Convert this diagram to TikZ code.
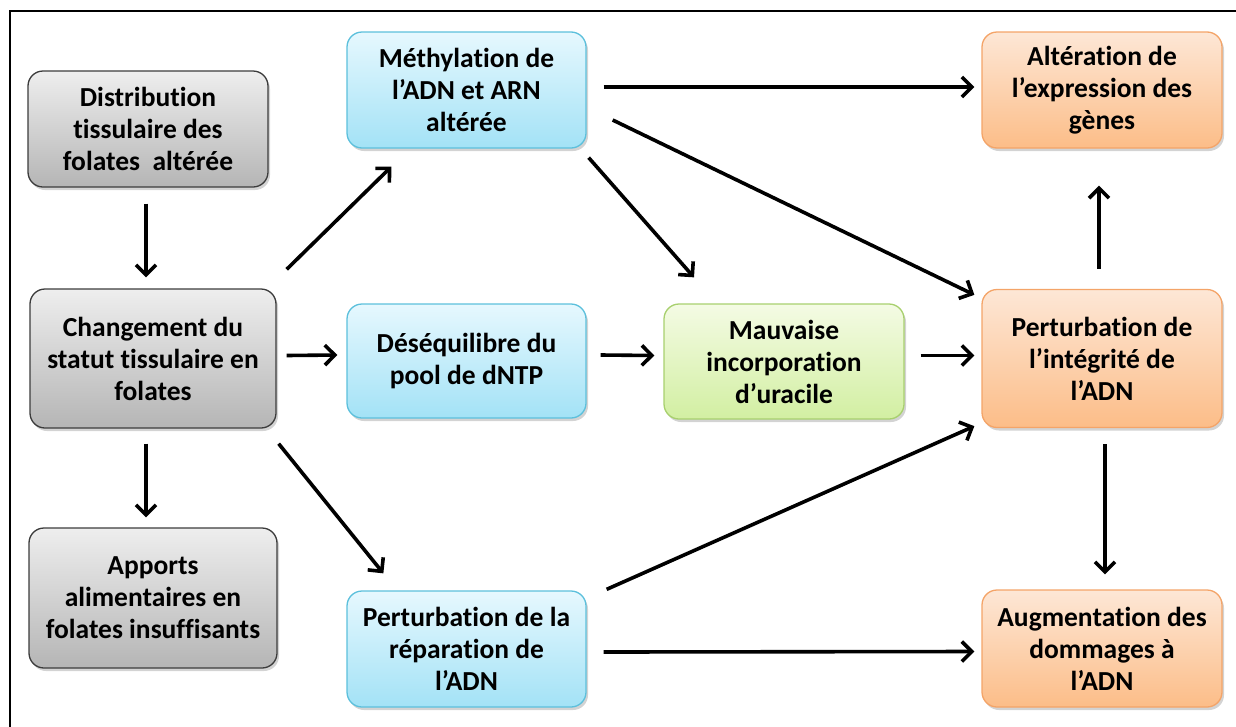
\documentclass[tikz,border=0pt]{standalone}
\usepackage{fontspec}
\setmainfont{Carlito}[RawFeature={-liga;-clig;-calt;-dlig;-rlig}]
\usetikzlibrary{arrows.meta,shadows,calc}
\definecolor{greyline}{HTML}{3C3C3C}
\definecolor{greytop}{HTML}{EEEEEE}
\definecolor{greybot}{HTML}{B5B5B5}
\definecolor{blueline}{HTML}{5CC0DC}
\definecolor{bluetop}{HTML}{E6F8FE}
\definecolor{bluebot}{HTML}{A3E2F6}
\definecolor{greenline}{HTML}{A8D06E}
\definecolor{greentop}{HTML}{F4FBE4}
\definecolor{greenbot}{HTML}{D2EFA2}
\definecolor{orline}{HTML}{F4A468}
\definecolor{ortop}{HTML}{FDE7D6}
\definecolor{orbot}{HTML}{FCBD88}
\begin{document}
\begin{tikzpicture}[x=1pt,y=-1pt,
  box/.style={rounded corners=15pt, inner sep=0pt, align=center,
    font=\fontsize{27.5}{32}\selectfont\bfseries, line width=1.3pt,
    drop shadow={opacity=0.35, shadow xshift=2pt, shadow yshift=-3pt}},
  greybox/.style={box, draw=greyline, top color=greytop, bottom color=greybot},
  bluebox/.style={box, draw=blueline, top color=bluetop, bottom color=bluebot},
  greenbox/.style={box, draw=greenline, top color=greentop, bottom color=greenbot},
  orbox/.style={box, draw=orline, top color=ortop, bottom color=orbot},
  arr/.style={line width=3.6pt, -{Straight Barb[length=10pt,width=20pt]}}]
\useasboundingbox (0,0) rectangle (1236,726);
\draw[line width=2pt] (10,728) -- (10,11) -- (1238,11);

\node[greybox, minimum width=240pt, minimum height=116pt] (dist) at (148,129) {Distribution\\tissulaire des\\folates\ \ altérée};
\node[greybox, minimum width=246pt, minimum height=139pt] (chg) at (153,358.5) {Changement du\\statut tissulaire en\\folates};
\node[greybox, minimum width=248pt, minimum height=140pt] (app) at (153,598) {Apports\\alimentaires en\\folates insuffisants};

\node[bluebox, minimum width=239pt, minimum height=116pt] (meth) at (466.5,90) {Méthylation de\\l’ADN et ARN\\altérée};
\node[bluebox, minimum width=239pt, minimum height=114pt] (deseq) at (466.5,361) {Déséquilibre du\\pool de dNTP};
\node[bluebox, minimum width=239pt, minimum height=116pt] (repar) at (466.5,649) {Perturbation de la\\réparation de\\l’ADN};

\node[greenbox, minimum width=240pt, minimum height=115pt] (mauv) at (784,361.5) {Mauvaise\\incorporation\\d’uracile};

\node[orbox, minimum width=240pt, minimum height=116pt] (alt) at (1102,90) {Altération de\\l’expression des\\gènes};
\node[orbox, minimum width=240pt, minimum height=138pt] (integ) at (1102,358.5) {Perturbation de\\l’intégrité de\\l’ADN};
\node[orbox, minimum width=240pt, minimum height=117pt] (augm) at (1102,648.5) {Augmentation des\\dommages à\\l’ADN};

\draw[arr] ($(dist.south)+(-2,16)$) -- ($(chg.north)+(-7,-11)$);
\draw[arr] ($(chg.south)+(-7,15)$) -- ($(app.north)+(-7,-10)$);
\draw[arr] ($(chg.north east)+(10,-19)$) -- ($(meth.south west)+(45,18)$);
\draw[arr] ($(chg.east)+(10,-3)$) -- ($(deseq.west)+(-9,-6)$);
\draw[arr] ($(chg.south east)+(2,15)$) -- ($(repar.north west)+(37,-17)$);
\draw[arr] ($(meth.east)+(17,-3)$) -- ($(alt.west)+(-7,-3)$);
\draw[arr] ($(meth.east)+(26,30)$) -- ($(integ.north west)+(-7,6)$);
\draw[arr] ($(meth.south east)+(2,9)$) -- ($(mauv.north)+(-90,-26)$);
\draw[arr] ($(deseq.east)+(14,-6)$) -- ($(mauv.west)+(-9,-6)$);
\draw[arr] ($(mauv.east)+(16,-6)$) -- ($(integ.west)+(-7,-3)$);
\draw[arr] ($(integ.north)+(-3,-20)$) -- ($(alt.south)+(-3,37)$);
\draw[arr] ($(integ.south)+(3,16)$) -- ($(augm.north)+(3,-15)$);
\draw[arr] ($(repar.north east)+(20,-1)$) -- ($(integ.south west)+(-7,-2)$);
\draw[arr] ($(repar.east)+(17,3)$) -- ($(augm.west)+(-7,3)$);
\end{tikzpicture}
\end{document}
